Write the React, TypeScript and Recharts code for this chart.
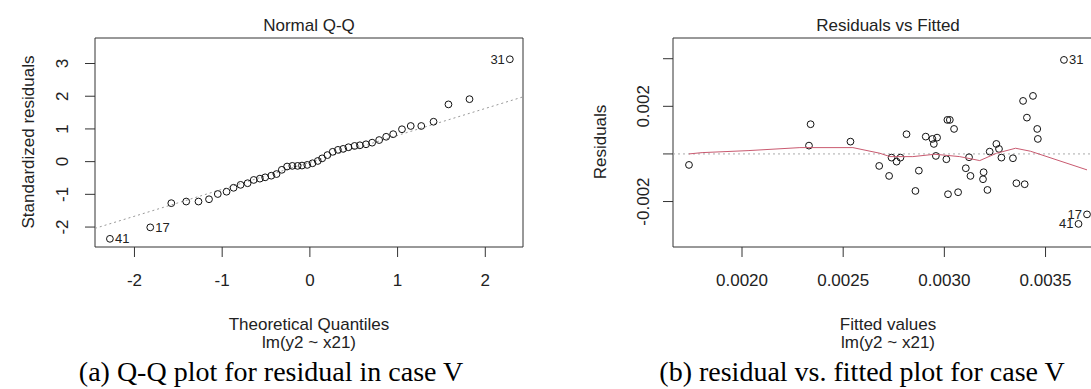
import React from "react";
import { ReferenceArea, ReferenceLine, Scatter, ScatterChart, XAxis, YAxis } from "recharts";

// Normal Q-Q panel
const qqTheoretical = [
  -2.28, -1.82, -1.58, -1.41, -1.27, -1.15, -1.05, -0.95, -0.87, -0.79, -0.71,
  -0.64, -0.57, -0.51, -0.44, -0.38, -0.32, -0.26, -0.2, -0.14, -0.09, -0.03,
  0.03, 0.09, 0.14, 0.2, 0.26, 0.32, 0.38, 0.44, 0.51, 0.57, 0.64, 0.71, 0.79,
  0.87, 0.95, 1.05, 1.15, 1.27, 1.41, 1.58, 1.82, 2.28,
];
const qqStdResiduals = [
  -2.36, -2.01, -1.27, -1.22, -1.22, -1.15, -0.99, -0.92, -0.8, -0.71, -0.66,
  -0.56, -0.52, -0.48, -0.43, -0.38, -0.25, -0.15, -0.13, -0.13, -0.12, -0.1,
  -0.05, 0.02, 0.1, 0.2, 0.3, 0.36, 0.39, 0.44, 0.48, 0.5, 0.53, 0.58, 0.66,
  0.76, 0.84, 0.99, 1.09, 1.09, 1.22, 1.75, 1.91, 3.13,
];
const qqLabelIndex = [0, 1, 43];
const qqLabelText = ["41", "17", "31"];
const qqLineX = [-2.45, 2.43];
const qqLineY = [-2.04, 1.98];
const qqTicksX = [-2, -1, 0, 1, 2];
const qqTickLabelsX = ["-2", "-1", "0", "1", "2"];
const qqTicksY = [-2, -1, 0, 1, 2, 3];
const qqTickLabelsY = ["-2", "-1", "0", "1", "2", "3"];

// Residuals vs Fitted panel
const fittedValues = [
  0.001738, 0.002331, 0.002339, 0.002536, 0.002678, 0.002727, 0.002739,
  0.002764, 0.002783, 0.002813, 0.002857, 0.002874, 0.002908, 0.002941,
  0.002948, 0.002958, 0.002964, 0.00301, 0.003015, 0.003018, 0.003027,
  0.003048, 0.003068, 0.003106, 0.003122, 0.003129, 0.003191, 0.003194,
  0.003213, 0.003224, 0.003257, 0.00327, 0.003282, 0.003339, 0.003356,
  0.003389, 0.003397, 0.003408, 0.003438, 0.003459, 0.003462, 0.003591,
  0.003663, 0.003705,
];
const residualValues = [
  -0.000462, 0.000349, 0.001248, 0.000517, -0.000504, -0.000924, -0.000155,
  -0.000324, -0.000155, 0.000828, -0.001555, -0.000702, 0.000727, 0.00063,
  0.00042, -0.000084, 0.000685, -0.000223, 0.001429, -0.001693, 0.001429,
  0.00105, -0.001609, -0.000601, -0.000139, -0.000924, -0.001063, -0.000769,
  -0.001513, 0.000097, 0.00042, 0.00021, -0.000155, -0.000181, -0.001231,
  0.002227, -0.001273, 0.001525, 0.002437, 0.00105, 0.00063, 0.00395,
  -0.00294, -0.00254,
];
const rvfLabelIndex = [41, 42, 43];
const rvfLabelText = ["31", "41", "17"];
const lowessFitted = [
  0.001738, 0.001803, 0.00203, 0.002286, 0.002548, 0.002681, 0.002731,
  0.002844, 0.002953, 0.003076, 0.003175, 0.003258, 0.003352, 0.003426,
  0.003705,
];
const lowessResidual = [
  0, 0.000055, 0.000139, 0.000265, 0.000265, 0.000029, -0.000113, -0.000113,
  -0.000013, -0.000113, -0.00028, 0.000029, 0.000239, 0.000113, -0.00067,
];
const rvfTicksX = [0.002, 0.0025, 0.003, 0.0035];
const rvfTickLabelsX = ["0.0020", "0.0025", "0.0030", "0.0035"];
const rvfTicksY = [-0.002, 0, 0.002, 0.004];
const rvfTickLabelsY = ["-0.002", "", "0.002", ""];

const R_FONT = "'Liberation Sans', Arial, sans-serif";
const CAPTION_FONT = "'Liberation Serif', 'Times New Roman', serif";
const INK = "#222";
const BOX = "#333";
const TICK_LABEL_Y = 280;
const AXIS_W = 40;
const AXIS_H = 40;

type Side = "left" | "right";

const withLabels = (xs: number[], ys: number[], idx: number[], text: string[]) =>
  xs.map((x, i) => {
    const k = idx.indexOf(i);
    return { x, y: ys[i], label: k >= 0 ? text[k] : "" };
  });

const qqData = withLabels(qqTheoretical, qqStdResiduals, qqLabelIndex, qqLabelText);
const rvfData = withLabels(fittedValues, residualValues, rvfLabelIndex, rvfLabelText);
const lowessData = lowessFitted.map((x, i) => ({ x, y: lowessResidual[i] }));

function pointShape(sides: Record<string, Side>) {
  return (props: any) => {
    const { cx, cy, payload } = props;
    if (cx == null || cy == null) return <g />;
    const side = sides[payload.label];
    return (
      <g>
        <circle cx={cx} cy={cy} r={3.4} fill="none" stroke="#111" strokeWidth={1} />
        {payload.label ? (
          <text
            x={side === "left" ? cx - 5 : cx + 5}
            y={cy}
            textAnchor={side === "left" ? "end" : "start"}
            dominantBaseline="central"
            fontSize={13}
            fontFamily={R_FONT}
            fill={INK}
          >
            {payload.label}
          </text>
        ) : null}
      </g>
    );
  };
}

function xTick(ticks: number[], labels: string[]) {
  return (props: any) => {
    const text = labels[ticks.indexOf(props.payload.value)];
    return (
      <text
        x={props.x}
        y={TICK_LABEL_Y}
        textAnchor="middle"
        dominantBaseline="central"
        fontSize={17}
        fontFamily={R_FONT}
        fill={INK}
      >
        {text}
      </text>
    );
  };
}

function yTick(ticks: number[], labels: string[], labelX: number) {
  return (props: any) => {
    const text = labels[ticks.indexOf(props.payload.value)];
    if (!text) return <g />;
    return (
      <text
        x={labelX}
        y={props.y}
        transform={`rotate(-90 ${labelX} ${props.y})`}
        textAnchor="middle"
        dominantBaseline="central"
        fontSize={17}
        fontFamily={R_FONT}
        fill={INK}
      >
        {text}
      </text>
    );
  };
}

function Txt({
  x,
  y,
  children,
  size = 17,
  font = R_FONT,
  rotate = false,
  color = INK,
}: {
  x: number;
  y: number;
  children: React.ReactNode;
  size?: number;
  font?: string;
  rotate?: boolean;
  color?: string;
}) {
  return (
    <div
      style={{
        position: "absolute",
        left: x,
        top: y,
        transform: `translate(-50%, -50%)${rotate ? " rotate(-90deg)" : ""}`,
        whiteSpace: "nowrap",
        fontFamily: font,
        fontSize: size,
        lineHeight: 1,
        color,
      }}
    >
      {children}
    </div>
  );
}

function QQPanel() {
  const xd: [number, number] = [-2.45, 2.43];
  const yd: [number, number] = [-2.61, 3.78];
  return (
    <ScatterChart
      width={545}
      height={389}
      margin={{ top: 38, left: 95 - AXIS_W, right: 22, bottom: 142 - AXIS_H }}
    >
      <XAxis
        type="number"
        dataKey="x"
        domain={xd}
        ticks={qqTicksX}
        allowDataOverflow
        height={AXIS_H}
        tickSize={10}
        axisLine={false}
        tickLine={{ stroke: BOX }}
        interval={0}
        tick={xTick(qqTicksX, qqTickLabelsX)}
      />
      <YAxis
        type="number"
        dataKey="y"
        domain={yd}
        ticks={qqTicksY}
        allowDataOverflow
        width={AXIS_W}
        tickSize={10}
        axisLine={false}
        tickLine={{ stroke: BOX }}
        interval={0}
        tick={yTick(qqTicksY, qqTickLabelsY, 63)}
      />
      <ReferenceArea x1={xd[0]} x2={xd[1]} y1={yd[0]} y2={yd[1]} fill="none" stroke={BOX} strokeWidth={1} />
      <ReferenceLine
        segment={[
          { x: qqLineX[0], y: qqLineY[0] },
          { x: qqLineX[1], y: qqLineY[1] },
        ]}
        stroke="#999"
        strokeDasharray="2 3"
      />
      <Scatter
        data={qqData}
        shape={pointShape({ "41": "right", "17": "right", "31": "left" })}
        isAnimationActive={false}
      />
    </ScatterChart>
  );
}

function RvFPanel() {
  const xd: [number, number] = [0.001659, 0.003784];
  const yd: [number, number] = [-0.00391, 0.00487];
  return (
    <ScatterChart
      width={600}
      height={389}
      margin={{ top: 38, left: 128 - AXIS_W, right: 42, bottom: 142 - AXIS_H }}
    >
      <XAxis
        type="number"
        dataKey="x"
        domain={xd}
        ticks={rvfTicksX}
        allowDataOverflow
        height={AXIS_H}
        tickSize={10}
        axisLine={false}
        tickLine={{ stroke: BOX }}
        interval={0}
        tick={xTick(rvfTicksX, rvfTickLabelsX)}
      />
      <YAxis
        type="number"
        dataKey="y"
        domain={yd}
        ticks={rvfTicksY}
        allowDataOverflow
        width={AXIS_W}
        tickSize={10}
        axisLine={false}
        tickLine={{ stroke: BOX }}
        interval={0}
        tick={yTick(rvfTicksY, rvfTickLabelsY, 99)}
      />
      <ReferenceArea x1={xd[0]} x2={xd[1]} y1={yd[0]} y2={yd[1]} fill="none" stroke={BOX} strokeWidth={1} />
      <ReferenceLine y={0} stroke="#aaa" strokeDasharray="2 3" />
      <Scatter
        data={rvfData}
        shape={pointShape({ "31": "right", "41": "left", "17": "left" })}
        isAnimationActive={false}
      />
      <Scatter
        data={lowessData}
        shape={() => <g />}
        line={{ stroke: "#C95A70", strokeWidth: 1 }}
        isAnimationActive={false}
      />
    </ScatterChart>
  );
}

export default function App() {
  return (
    <div
      style={{
        position: "absolute",
        left: 0,
        top: 0,
        width: 1091,
        height: 389,
        overflow: "hidden",
        background: "#fff",
      }}
    >
      <div style={{ position: "absolute", left: 0, top: 0 }}>
        <QQPanel />
      </div>
      <div style={{ position: "absolute", left: 545, top: 0 }}>
        <RvFPanel />
      </div>

      <Txt x={309} y={25}>Normal Q-Q</Txt>
      <Txt x={28} y={142} rotate>Standardized residuals</Txt>
      <Txt x={309} y={324}>Theoretical Quantiles</Txt>
      <Txt x={309} y={342}>lm(y2 ~ x21)</Txt>
      <Txt x={271} y={372} size={28} font={CAPTION_FONT} color="#000">
        (a) Q-Q plot for residual in case V
      </Txt>

      <Txt x={888} y={25}>Residuals vs Fitted</Txt>
      <Txt x={600} y={142} rotate>Residuals</Txt>
      <Txt x={888} y={324}>Fitted values</Txt>
      <Txt x={888} y={342}>lm(y2 ~ x21)</Txt>
      <Txt x={862} y={372} size={28} font={CAPTION_FONT} color="#000">
        (b) residual vs. fitted plot for case V
      </Txt>
    </div>
  );
}
